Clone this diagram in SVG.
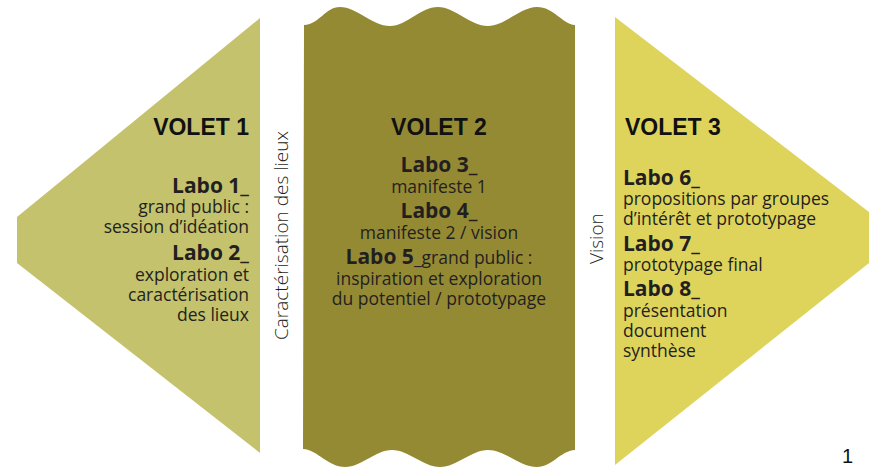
<svg xmlns="http://www.w3.org/2000/svg" width="869" height="467" viewBox="0 0 869 467">
<style>
.volet{font-family:"Liberation Sans",Arial,sans-serif;font-weight:700;font-size:23px;fill:#111}
.labo{font-family:"Open Sans","Noto Sans",sans-serif;font-weight:700;font-size:21px;fill:#231f20}
.body{font-family:"Open Sans","Noto Sans",sans-serif;font-weight:400;font-size:17.5px;fill:#231f20}
.side{font-family:"Open Sans","Noto Sans",sans-serif;font-weight:300;font-size:19px;fill:#231f20}
.pnum{font-family:"Liberation Sans",Arial,sans-serif;font-size:20px;fill:#111}
</style>
<rect width="869" height="467" fill="#ffffff"/>
<g id="volet1">
<polygon points="260,18 17,217 17,263 260,453" fill="#c4c26c"/>
<text class="volet" x="249" y="135" text-anchor="end">VOLET 1</text>
<g text-anchor="end">
<text class="labo" x="249" y="193">Labo 1_</text>
<text class="body" x="249" y="213">grand public :</text>
<text class="body" x="249" y="233">session d’idéation</text>
<text class="labo" x="249" y="260">Labo 2_</text>
<text class="body" x="249" y="281">exploration et</text>
<text class="body" x="249" y="301">caractérisation</text>
<text class="body" x="249" y="321">des lieux</text>
</g>
</g>
<g id="label-caracterisation">
<text class="side" transform="translate(288,340) rotate(-90)">Caractérisation des lieux</text>
</g>
<g id="volet2">
<path d="M304,25 C320,24 325,7 340,7 C357,7 372,26 390,26 C407,26 420,7 438,7 C455,7 470,26 488,26 C505,26 520,7 537,7 C554,7 562,24 575,25 L575,450 C560,451 552,467 537,467 C520,467 505,450 488,450 C471,450 457,467 440,467 C423,467 409,450 392,450 C375,450 362,467 345,467 C328,467 318,450 303,449 Z" fill="#958a34"/>
<text class="volet" x="439" y="135" text-anchor="middle">VOLET 2</text>
<g text-anchor="middle">
<text class="labo" x="439" y="172">Labo 3_</text>
<text class="body" x="439" y="193">manifeste 1</text>
<text class="labo" x="439" y="218">Labo 4_</text>
<text class="body" x="439" y="239">manifeste 2 / vision</text>
<text x="439" y="264"><tspan class="labo">Labo 5</tspan><tspan class="body">_grand public :</tspan></text>
<text class="body" x="439" y="285">inspiration et exploration</text>
<text class="body" x="439" y="305">du potentiel / prototypage</text>
</g>
</g>
<g id="label-vision">
<text class="side" transform="translate(603,264) rotate(-90)">Vision</text>
</g>
<g id="volet3">
<polygon points="615,17 869,212 869,263 615,465" fill="#dfd45b"/>
<text class="volet" x="625" y="135">VOLET 3</text>
<text class="labo" x="623" y="185">Labo 6_</text>
<text class="body" x="623" y="205">propositions par groupes</text>
<text class="body" x="623" y="225">d’intérêt et prototypage</text>
<text class="labo" x="623" y="251">Labo 7_</text>
<text class="body" x="623" y="271">prototypage final</text>
<text class="labo" x="623" y="296">Labo 8_</text>
<text class="body" x="623" y="317">présentation</text>
<text class="body" x="623" y="337">document</text>
<text class="body" x="623" y="357">synthèse</text>
</g>
<text class="pnum" x="842" y="463">1</text>
</svg>
